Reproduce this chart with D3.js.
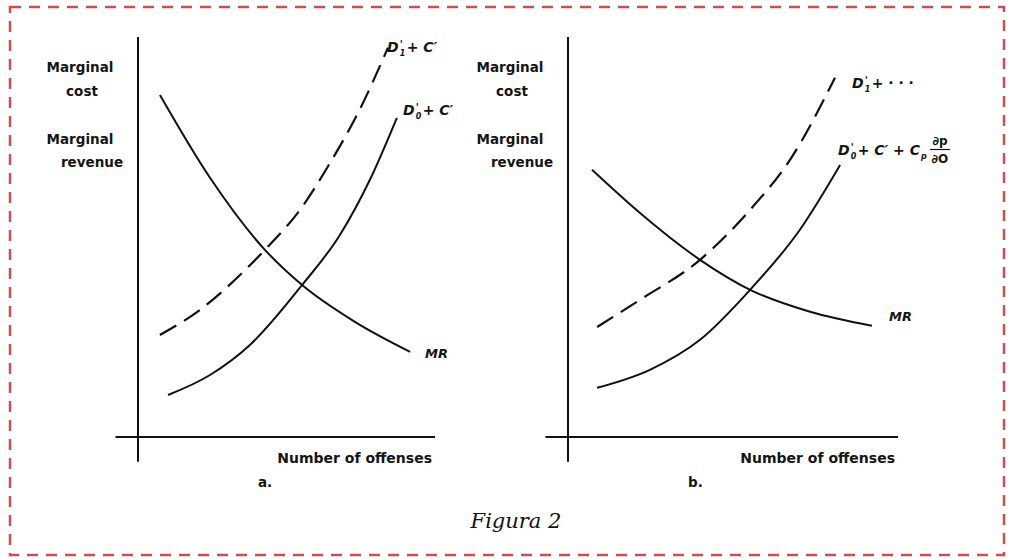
<!DOCTYPE html>
<meta charset="utf-8">
<style>
  body { margin: 0; background: #fff; }
  svg { display: block; }
  .lbl { font-family: 'DejaVu Sans', sans-serif; font-size: 13.5px; font-weight: bold; fill: #151515; }
  .math { font-family: 'DejaVu Sans', sans-serif; font-weight: bold; fill: #151515; }
  .caption { font-family: 'DejaVu Serif', serif; font-style: italic; font-size: 21px; fill: #111; }
</style>
<script src="https://d3js.org/d3.v7.min.js"></script>
<div id="chart"></div>
<script>
// curve points in plot units (x: offenses, y: marginal cost / revenue)
const mrA      = [[0.73,8.55],[2.4,6.48],[4.23,4.68],[5.47,3.8],[7.23,2.88],[9.07,2.13]];
const dashA    = [[0.73,2.55],[2.07,3.18],[3.4,4.05],[4.23,4.68],[5.4,5.68],[6.4,6.85],[7.4,8.2],[8.33,9.73]];
const solidA   = [[1,1.05],[2.4,1.55],[3.73,2.3],[5.47,3.8],[6.73,5.05],[7.73,6.43],[8.63,7.98]];
const mrB      = [[0.8,6.68],[2.4,5.6],[4.4,4.43],[6.07,3.68],[8.07,3.13],[10.13,2.78]];
const dashB    = [[0.97,2.75],[2.4,3.43],[4.4,4.43],[6.07,5.68],[7.4,6.93],[8.9,8.98]];
const solidB   = [[0.97,1.23],[2.73,1.68],[4.4,2.43],[6.07,3.68],[7.73,5.18],[9.07,6.8]];
const panelTags = ["a.", "b."];

const W = 1011, H = 559;
const svg = d3.select("#chart").append("svg").attr("width", W).attr("height", H);

// dashed red frame
svg.append("rect")
  .attr("x", 10).attr("y", 7).attr("width", 994).attr("height", 548)
  .attr("fill", "none").attr("stroke", "#c9504e").attr("stroke-width", 2.5)
  .attr("stroke-dasharray", "11,8");

function panel(ox, cfg) {
  const x = d3.scaleLinear().domain([0, 10]).range([ox, ox + 300]);
  const y = d3.scaleLinear().domain([0, 10]).range([437, 37]);
  const g = svg.append("g");

  // axes
  g.append("line").attr("x1", x(0)).attr("x2", x(0)).attr("y1", y(10)).attr("y2", y(-0.62))
    .attr("stroke", "#111").attr("stroke-width", 2);
  g.append("line").attr("x1", x(-0.75)).attr("x2", x(cfg.xEnd)).attr("y1", y(0)).attr("y2", y(0))
    .attr("stroke", "#111").attr("stroke-width", 2);

  const line = d3.line().curve(d3.curveMonotoneX).x(d => x(d[0])).y(d => y(d[1]));
  g.append("path").datum(cfg.mr).attr("d", line).attr("fill", "none").attr("stroke", "#111").attr("stroke-width", 2);
  g.append("path").datum(cfg.solid).attr("d", line).attr("fill", "none").attr("stroke", "#111").attr("stroke-width", 2);
  g.append("path").datum(cfg.dash).attr("d", line).attr("fill", "none").attr("stroke", "#111").attr("stroke-width", 2.2)
    .attr("stroke-dasharray", "19,9");

  // y axis titles
  const lx = ox - 58;
  [["Marginal", lx, 72], ["cost", lx + 2, 96], ["Marginal", lx, 144], ["revenue", lx + 12, 167]]
    .forEach(t => g.append("text").attr("class", "lbl").attr("x", t[1]).attr("y", t[2])
      .attr("text-anchor", "middle").text(t[0]));

  g.append("text").attr("class", "lbl").style("font-size", "14px").attr("x", x(cfg.xEnd) - 3).attr("y", 463)
    .attr("text-anchor", "end").text("Number of offenses");
  g.append("text").attr("class", "lbl").attr("x", cfg.tagX).attr("y", 487).text(cfg.tag);

  // MR label
  g.append("text").attr("class", "math").style("font-size", "13px").attr("font-style", "italic")
    .attr("x", cfg.mrLbl[0]).attr("y", cfg.mrLbl[1]).text("MR");
  return g;
}

// D' with prime above and subscript below; returns x where the rest starts
function dPrime(g, px, py, sub) {
  const d = g.append("text").attr("class", "math").style("font-size", "14px").attr("font-style", "italic")
    .attr("x", px).attr("y", py).text("D");
  const w = d.node().getComputedTextLength();
  g.append("text").attr("class", "math").style("font-size", "10px").attr("x", px + w + 1).attr("y", py - 4).text("'");
  g.append("text").attr("class", "math").style("font-size", "8px").attr("font-style", "italic")
    .attr("x", px + w + 1).attr("y", py + 4).text(sub);
  return px + w + 8;
}

function rest(g, px, py, parts) {
  const t = g.append("text").attr("class", "math").style("font-size", "14px").attr("x", px).attr("y", py);
  parts.forEach(p => {
    const s = t.append("tspan").text(p[0]);
    if (p[1]) s.attr("font-style", "italic");
  });
  return px + t.node().getComputedTextLength();
}

const ga = panel(138, { mr: mrA, dash: dashA, solid: solidA, xEnd: 9.9, tag: panelTags[0], tagX: 258, mrLbl: [425, 358] });
rest(ga, dPrime(ga, 387, 52, "1"), 52, [[" + "], ["C′", true]]);
rest(ga, dPrime(ga, 403, 115, "0"), 115, [[" + "], ["C′", true]]);

const gb = panel(568, { mr: mrB, dash: dashB, solid: solidB, xEnd: 11, tag: panelTags[1], tagX: 688, mrLbl: [889, 321] });
rest(gb, dPrime(gb, 852, 88, "1"), 88, [[" + · · ·"]]);
let ex = rest(gb, dPrime(gb, 838, 155, "0"), 155, [[" + "], ["C′", true], [" + "], ["C", true]]);
gb.append("text").attr("class", "math").style("font-size", "8px").attr("font-style", "italic")
  .attr("x", ex + 1).attr("y", 159).text("p");
const fx = ex + 20;
gb.append("text").attr("class", "math").style("font-size", "12px").attr("x", fx).attr("y", 145).attr("text-anchor", "middle").text("∂p");
gb.append("line").attr("x1", fx - 10).attr("x2", fx + 10).attr("y1", 149.5).attr("y2", 149.5).attr("stroke", "#111").attr("stroke-width", 1.2);
gb.append("text").attr("class", "math").style("font-size", "12px").attr("x", fx).attr("y", 163).attr("text-anchor", "middle").text("∂O");

svg.append("text").attr("class", "caption").attr("x", 516).attr("y", 528).attr("text-anchor", "middle").text("Figura 2");
</script>
